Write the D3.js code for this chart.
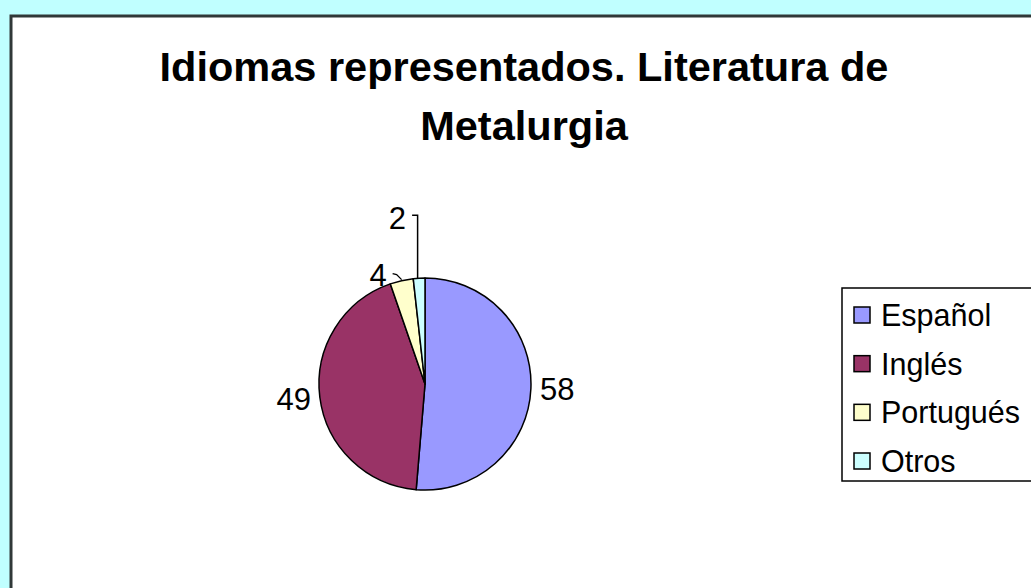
<!doctype html>
<html>
<head>
  <meta charset="utf-8">
  <title>Idiomas representados</title>
  <style>
  html, body { margin: 0; padding: 0; background: #c0ffff; }
  svg { display: block; font-family: "Liberation Sans", Arial, sans-serif; }
  </style>
</head>
<body>
  <svg></svg>
  <script src="https://d3js.org/d3.v7.min.js"></script>
  <script>
  var width = 1031;
  var height = 588;

  var titleLines = ['Idiomas representados. Literatura de', 'Metalurgia'];
  var languages = ['Español', 'Inglés', 'Portugués', 'Otros'];
  var counts = [58, 49, 4, 2];
  var colors = ['#9999ff', '#993366', '#ffffcc', '#ccffff'];

  var svg = d3.select('svg')
    .attr('width', width)
    .attr('height', height);

  // chart area
  svg.append('rect')
    .attr('x', 11).attr('y', 16)
    .attr('width', width + 20).attr('height', height + 20)
    .attr('fill', '#fff')
    .attr('stroke', '#303838')
    .attr('stroke-width', 3);

  svg.selectAll('.title').data(titleLines).enter().append('text')
    .attr('class', 'title')
    .attr('x', 524)
    .attr('y', function(d, i){ return 81 + i * 59; })
    .attr('text-anchor', 'middle')
    .attr('font-size', 41.5)
    .attr('font-weight', 'bold')
    .text(function(d){ return d; });

  var center = { x: 425, y: 384 };
  var radius = 106;

  var data = languages.map(function(l, i){ return { name: l, value: counts[i], color: colors[i] }; });

  var pie = d3.pie().sort(null).value(function(d){ return d.value; });
  var arc = d3.arc().innerRadius(0).outerRadius(radius);
  var arcs = pie(data);

  var g = svg.append('g').attr('transform', 'translate(' + center.x + ',' + center.y + ')');

  g.selectAll('path').data(arcs).enter().append('path')
    .attr('d', arc)
    .attr('fill', function(d){ return d.data.color; })
    .attr('stroke', '#000')
    .attr('stroke-width', 1.5)
    .attr('stroke-linejoin', 'round');

  // labels: big slices beside the pie, small ones pushed out with leaders
  var labelR = radius + 9;
  function mid(d){ return (d.startAngle + d.endAngle) / 2; }

  arcs.forEach(function(d, i){
    var a = mid(d);
    var px = radius * Math.sin(a), py = -radius * Math.cos(a);
    if(d.data.value > 10){
      g.append('text')
        .attr('x', labelR * Math.sin(a))
        .attr('y', -labelR * Math.cos(a))
        .attr('dy', '0.36em')
        .attr('text-anchor', Math.sin(a) > 0 ? 'start' : 'end')
        .attr('font-size', 31)
        .text(d.data.value);
    } else if(i === 2){
      // Portugués: short elbow to the left
      var ex = px - 9, ey = py - 7;
      g.append('path')
        .attr('d', 'M' + px + ',' + (py - 1) + 'L' + (ex + 4) + ',' + (py - 6) + 'L' + ex + ',' + ey)
        .attr('fill', 'none').attr('stroke', '#000').attr('stroke-width', 1.3);
      g.append('text')
        .attr('x', ex - 6).attr('y', ey + 1)
        .attr('dy', '0.36em')
        .attr('text-anchor', 'end')
        .attr('font-size', 31)
        .text(d.data.value);
    } else {
      // Otros: vertical leader up, then a short step left
      var topY = py - 63;
      g.append('path')
        .attr('d', 'M' + (px - 1.5) + ',' + py + 'L' + (px - 1.5) + ',' + topY + 'L' + (px - 7) + ',' + topY)
        .attr('fill', 'none').attr('stroke', '#000').attr('stroke-width', 1.5);
      g.append('text')
        .attr('x', px - 13).attr('y', topY + 3)
        .attr('dy', '0.36em')
        .attr('text-anchor', 'end')
        .attr('font-size', 31)
        .text(d.data.value);
    }
  });

  // legend
  var legend = svg.append('g').attr('transform', 'translate(842,288)');
  legend.append('rect')
    .attr('x', 0).attr('y', 0)
    .attr('width', 220).attr('height', 193)
    .attr('fill', '#fff')
    .attr('stroke', '#000')
    .attr('stroke-width', 1.5);

  var rowY = d3.scalePoint().domain(languages).range([27, 173]);

  var rows = legend.selectAll('.row').data(data).enter().append('g')
    .attr('class', 'row')
    .attr('transform', function(d){ return 'translate(0,' + rowY(d.name) + ')'; });
  rows.append('rect')
    .attr('x', 12).attr('y', -8)
    .attr('width', 16).attr('height', 16)
    .attr('fill', function(d){ return d.color; })
    .attr('stroke', '#000')
    .attr('stroke-width', 1.5);
  rows.append('text')
    .attr('x', 39).attr('y', 0)
    .attr('dy', '0.36em')
    .attr('font-size', 30.5)
    .text(function(d){ return d.name; });
  </script>
</body>
</html>
